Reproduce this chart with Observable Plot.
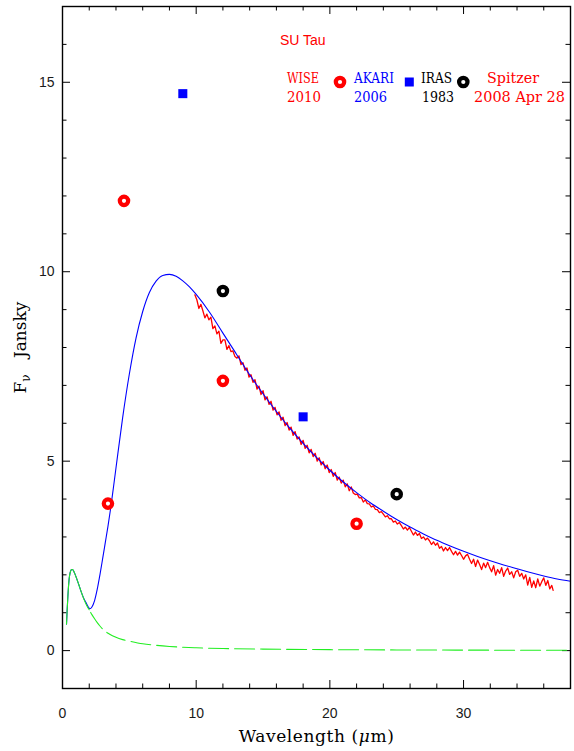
<!DOCTYPE html>
<html>
<head>
<meta charset="utf-8">
<script src="https://cdn.jsdelivr.net/npm/d3@7"></script>
<script src="https://cdn.jsdelivr.net/npm/@observablehq/plot@0.6"></script>
<style>
  html, body { margin: 0; padding: 0; background: #fff; }
  #wrap { position: relative; width: 574px; height: 751px; }
  #legend { position: absolute; left: 0; top: 0; pointer-events: none; }
</style>
</head>
<body>
<div id="wrap"></div>
<script>
// ---------- data ----------
// Observations (wavelength µm, flux Jy)
const wiseX = [3.4, 4.6, 12, 22];
const wiseY = [3.88, 11.87, 7.12, 3.35];
const akariX = [9, 18];
const akariY = [14.70, 6.17];
const irasX = [12, 25];
const irasY = [9.49, 4.13];

// Model SED (star + dust), blue
const modelX = [0.30,0.35,0.40,0.45,0.50,0.55,0.60,0.65,0.70,0.75,0.80,0.90,1.00,1.10,1.20,1.40,1.60,1.80,1.90,2.00,2.10,2.20,2.40,2.60,2.80,3.00,3.20,3.40,3.60,3.80,4.00,4.50,5.00,5.50,6.00,6.50,7.00,7.50,8.00,8.50,9.00,9.50,10.0,11.0,12.0,13.0,14.0,15.0,16.0,17.0,18.0,19.0,20.0,21.0,22.0,23.0,24.0,25.0,26.0,27.0,28.0,29.0,30.0,31.0,32.0,33.0,34.0,35.0,36.0,37.0,38.0];
const modelY = [0.70,1.08,1.42,1.70,1.90,2.02,2.09,2.13,2.14,2.14,2.12,2.05,1.96,1.86,1.76,1.55,1.37,1.24,1.17,1.12,1.11,1.15,1.32,1.62,2.00,2.42,2.85,3.28,3.75,4.28,4.82,6.15,7.30,8.25,8.95,9.45,9.75,9.90,9.93,9.88,9.76,9.60,9.40,8.93,8.38,7.83,7.28,6.78,6.31,5.87,5.47,5.10,4.76,4.45,4.17,3.91,3.68,3.46,3.26,3.08,2.91,2.76,2.62,2.49,2.37,2.26,2.16,2.06,1.97,1.89,1.83];

// Stellar photosphere, green
const starX = [0.30,0.35,0.40,0.45,0.50,0.55,0.60,0.65,0.70,0.75,0.80,0.90,1.00,1.10,1.20,1.40,1.60,1.80,2.00,2.20,2.40,2.60,2.80,3.00,3.50,4.00,4.50,5.00,6.00,7.00,8.00,10.0,12.0,15.0,20.0,25.0,30.0,38.0];
const starY = [0.70,1.08,1.42,1.70,1.90,2.02,2.09,2.13,2.14,2.14,2.12,2.05,1.96,1.86,1.76,1.55,1.36,1.20,1.08,0.95,0.84,0.74,0.65,0.57,0.44,0.35,0.29,0.25,0.18,0.14,0.11,0.075,0.055,0.04,0.025,0.018,0.013,0.009];

// Spitzer IRS spectrum, red
const specX = [9.90,10.05,10.20,10.35,10.50,10.65,10.80,10.95,11.10,11.25,11.40,11.55,11.70,11.85,12.00,12.15,12.30,12.45,12.60,12.75,12.90,13.05,13.20,13.35,13.50,13.65,13.80,13.95,14.10,14.25,14.40,14.55,14.70,14.85,15.00,15.15,15.30,15.45,15.60,15.75,15.90,16.05,16.20,16.35,16.50,16.65,16.80,16.95,17.10,17.25,17.40,17.55,17.70,17.85,18.00,18.15,18.30,18.45,18.60,18.75,18.90,19.05,19.20,19.35,19.50,19.65,19.80,19.95,20.10,20.25,20.40,20.55,20.70,20.85,21.00,21.15,21.30,21.45,21.60,21.75,21.90,22.05,22.20,22.35,22.50,22.65,22.80,22.95,23.10,23.25,23.40,23.55,23.70,23.85,24.00,24.15,24.30,24.45,24.60,24.75,24.90,25.05,25.20,25.35,25.50,25.65,25.80,25.95,26.10,26.25,26.40,26.55,26.70,26.85,27.00,27.15,27.30,27.45,27.60,27.75,27.90,28.05,28.20,28.35,28.50,28.65,28.80,28.95,29.10,29.25,29.40,29.55,29.70,29.85,30.00,30.15,30.30,30.45,30.60,30.75,30.90,31.05,31.20,31.35,31.50,31.65,31.80,31.95,32.10,32.25,32.40,32.55,32.70,32.85,33.00,33.15,33.30,33.45,33.60,33.75,33.90,34.05,34.20,34.35,34.50,34.65,34.80,34.95,35.10,35.25,35.40,35.55,35.70,35.85,36.00,36.15,36.30,36.45,36.60,36.70];
const specY = [9.39,9.26,9.03,9.14,8.97,8.78,8.88,8.73,8.80,8.50,8.57,8.36,8.43,8.11,8.20,8.20,7.95,8.05,7.89,7.91,7.76,7.72,7.78,7.55,7.60,7.40,7.46,7.22,7.28,7.08,7.15,6.90,6.98,6.76,6.86,6.62,6.70,6.50,6.58,6.35,6.42,6.22,6.30,6.08,6.16,5.94,6.02,5.82,5.90,5.68,5.78,5.58,5.64,5.44,5.55,5.34,5.42,5.22,5.31,5.12,5.21,5.00,5.09,4.90,4.99,4.80,4.90,4.70,4.78,4.60,4.70,4.50,4.58,4.42,4.50,4.32,4.40,4.22,4.32,4.16,4.12,4.13,4.03,4.04,3.92,3.98,3.88,3.87,3.79,3.82,3.73,3.72,3.64,3.67,3.60,3.53,3.56,3.48,3.48,3.39,3.42,3.34,3.38,3.30,3.21,3.26,3.18,3.25,3.15,3.05,3.13,3.04,3.09,2.96,3.00,2.92,2.97,2.90,2.80,2.87,2.78,2.84,2.70,2.75,2.63,2.72,2.64,2.72,2.62,2.53,2.62,2.52,2.60,2.51,2.41,2.50,2.54,2.41,2.30,2.41,2.22,2.39,2.27,2.14,2.31,2.19,2.33,2.19,2.08,2.24,1.99,2.14,2.04,2.19,1.96,2.10,2.18,2.01,2.08,1.92,2.08,2.12,1.96,2.04,1.89,2.00,1.73,1.93,1.67,1.84,1.66,1.89,1.70,1.82,1.92,1.72,1.85,1.63,1.72,1.59];

// Axis ticks
const xMajor = [0, 10, 20, 30];
const xMinor = [2,4,6,8,12,14,16,18,22,24,26,28,32,34,36];
const yMajor = [0, 5, 10, 15];
const yMinor = [1,2,3,4,6,7,8,9,11,12,13,14,16];

// ---------- build ----------
const zip = (xs, ys) => xs.map((x, i) => ({x, y: ys[i]}));
const wise = zip(wiseX, wiseY), akari = zip(akariX, akariY), iras = zip(irasX, irasY);
const model = zip(modelX, modelY), star = zip(starX, starY), spec = zip(specX, specY);
const starSolid = star.filter(d => d.x <= 2.0);
const starDash = star.filter(d => d.x >= 2.0);

const W = 574, H = 751, mL = 62, mR = 4, mT = 6, mB = 63;
const fw = W - mL - mR, fh = H - mT - mB;
const MAJ = 8, MIN = 4.5;
const green = "#22ee22";

const chart = Plot.plot({
  width: W, height: H,
  marginLeft: mL, marginRight: mR, marginTop: mT, marginBottom: mB,
  style: {background: "#fff", fontFamily: "'Liberation Sans', Arial, sans-serif", fontSize: "14px", color: "#1a1a1a"},
  x: {domain: [0, 38]},
  y: {domain: [-1, 17]},
  marks: [
    Plot.axisX(xMajor, {tickSize: 0, tickPadding: 20, label: "Wavelength (μm)", labelAnchor: "center", labelOffset: 53, labelArrow: "none"}),
    Plot.axisY(yMajor, {tickSize: 0, tickPadding: 8, label: "Fν Jansky", labelAnchor: "center", labelOffset: 49, labelArrow: "none"}),
    // inward ticks, all four sides
    Plot.tickX(xMajor, {x: d => d, insetTop: fh - MAJ, stroke: "#000"}),
    Plot.tickX(xMinor, {x: d => d, insetTop: fh - MIN, stroke: "#000"}),
    Plot.tickX(xMajor, {x: d => d, insetBottom: fh - MAJ, stroke: "#000"}),
    Plot.tickX(xMinor, {x: d => d, insetBottom: fh - MIN, stroke: "#000"}),
    Plot.tickY(yMajor, {y: d => d, insetRight: fw - MAJ, stroke: "#000"}),
    Plot.tickY(yMinor, {y: d => d, insetRight: fw - MIN, stroke: "#000"}),
    Plot.tickY(yMajor, {y: d => d, insetLeft: fw - MAJ, stroke: "#000"}),
    Plot.tickY(yMinor, {y: d => d, insetLeft: fw - MIN, stroke: "#000"}),
    // curves
    Plot.line(spec, {x: "x", y: "y", stroke: "#ff0000", strokeWidth: 1.3}),
    Plot.line(model, {x: "x", y: "y", stroke: "#0000ff", strokeWidth: 1.1, curve: "monotone-x"}),
    Plot.line(starSolid, {x: "x", y: "y", stroke: green, strokeWidth: 1.1, curve: "monotone-x"}),
    Plot.line(starDash, {x: "x", y: "y", stroke: green, strokeWidth: 1.1, curve: "monotone-x", strokeDasharray: "20,6", strokeDashoffset: 23}),
    // photometry
    Plot.dot(wise, {x: "x", y: "y", r: 4.2, stroke: "#ff0000", strokeWidth: 4.2, fill: "#fff"}),
    Plot.dot(iras, {x: "x", y: "y", r: 4.2, stroke: "#000", strokeWidth: 4.2, fill: "#fff"}),
    Plot.dot(akari, {x: "x", y: "y", r: 5.1, symbol: "square", fill: "#0000ff", stroke: "none"}),
    Plot.frame({stroke: "#000", strokeWidth: 1.4})
  ]
});

document.getElementById("wrap").appendChild(chart);

// style axis labels (serif, sub/italic parts)
const serif = "'DejaVu Serif', 'Liberation Serif', serif";
const NS = "http://www.w3.org/2000/svg";
chart.querySelectorAll("text").forEach(t => {
  const s = t.textContent;
  if (s === "Wavelength (μm)") {
    t.textContent = "";
    t.setAttribute("font-family", serif);
    t.setAttribute("font-size", "17");
    t.setAttribute("letter-spacing", "0.6");
    t.setAttribute("fill", "#000");
    const a = document.createElementNS(NS, "tspan"); a.textContent = "Wavelength (";
    const b = document.createElementNS(NS, "tspan"); b.textContent = "μ"; b.setAttribute("font-style", "italic");
    const c = document.createElementNS(NS, "tspan"); c.textContent = "m)";
    t.append(a, b, c);
  } else if (s === "Fν Jansky") {
    t.textContent = "";
    t.setAttribute("font-family", serif);
    t.setAttribute("font-size", "17");
    t.setAttribute("fill", "#000");
    const a = document.createElementNS(NS, "tspan"); a.textContent = "F";
    const b = document.createElementNS(NS, "tspan"); b.textContent = "ν"; b.setAttribute("font-size", "12"); b.setAttribute("dy", "4");
    const c = document.createElementNS(NS, "tspan"); c.textContent = "\u00a0\u00a0\u00a0Jansky"; c.setAttribute("dy", "-4");
    t.append(a, b, c);
  }
});

// legend overlay
const legendItems = [
  {t: "WISE", x: 287, y: 83, w: 32, c: "#ff0000"},
  {t: "2010", x: 287, y: 102, w: 34, c: "#ff0000"},
  {t: "AKARI", x: 354, y: 83, w: 40, c: "#0000ff"},
  {t: "2006", x: 354, y: 102, w: 33, c: "#0000ff"},
  {t: "IRAS", x: 421, y: 83, w: 31, c: "#000"},
  {t: "1983", x: 422, y: 102, w: 32, c: "#000"},
  {t: "Spitzer", x: 487, y: 83, w: 52, c: "#ff0000"},
  {t: "2008 Apr 28", x: 474, y: 102, w: 91, c: "#ff0000"}
];
const lg = d3.select("#wrap").append("svg").attr("id", "legend").attr("width", W).attr("height", H);
lg.append("text").text("SU Tau").attr("x", 280).attr("y", 45)
  .attr("font-family", "'Liberation Sans', Arial, sans-serif").attr("font-size", 14).attr("fill", "#ff0000");
lg.selectAll("text.item").data(legendItems).join("text").attr("class", "item")
  .text(d => d.t).attr("x", d => d.x).attr("y", d => d.y)
  .attr("textLength", d => d.w).attr("lengthAdjust", "spacingAndGlyphs")
  .attr("font-family", serif).attr("font-size", 14.5).attr("fill", d => d.c);
lg.append("circle").attr("cx", 340).attr("cy", 82).attr("r", 4.2).attr("fill", "#fff").attr("stroke", "#ff0000").attr("stroke-width", 4.2);
lg.append("rect").attr("x", 404.8).attr("y", 77.5).attr("width", 9).attr("height", 9).attr("fill", "#0000ff");
lg.append("circle").attr("cx", 463.3).attr("cy", 82).attr("r", 4.2).attr("fill", "#fff").attr("stroke", "#000").attr("stroke-width", 4.2);
</script>
</body>
</html>
